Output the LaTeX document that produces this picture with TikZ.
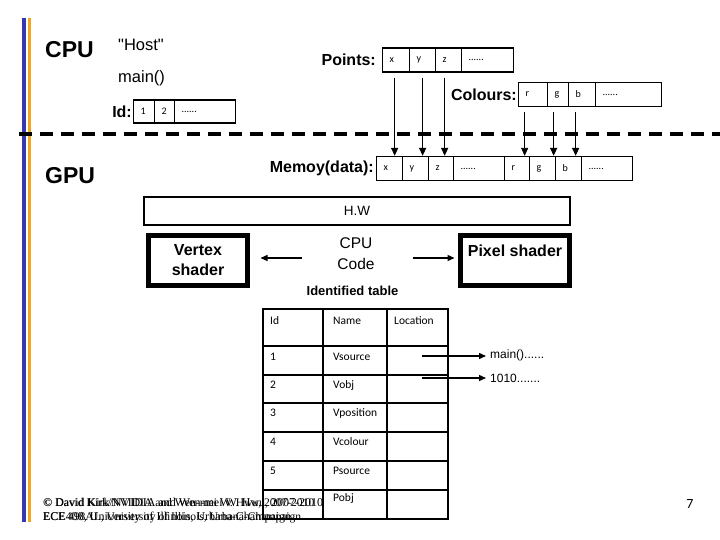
\documentclass[tikz,border=0pt]{standalone}
\usepackage{fontspec}
\setmainfont{Liberation Sans}
\newfontfamily\hostfont{Liberation Sans}[Ligatures=TeXOff]
\newfontfamily\calfont{Carlito}
\newfontfamily\serfont{Liberation Serif}
\usetikzlibrary{arrows.meta}
\definecolor{barblue}{RGB}{55,55,175}
\definecolor{barorange}{RGB}{240,165,35}
\newcommand\fsz[2]{\fontsize{#1}{#2}\selectfont}
\begin{document}
\begin{tikzpicture}[x=1pt,y=-1pt,
  cell/.style={draw, line width=1.3pt, minimum height=24pt, text width={#1pt-14pt},
    inner xsep=7pt, inner ysep=0pt, align=left, anchor=west, font=\calfont\fsz{10}{12}},
  blbl/.style={inner sep=0pt, font=\bfseries\fsz{16}{19}},
  big/.style={inner sep=0pt, anchor=west, font=\bfseries\fsz{23}{26}},
  reg/.style={inner sep=0pt, anchor=west, font=\fsz{16.5}{20}},
  arr/.style={line width=1.5pt, -{Triangle[length=8pt,width=7pt]}},
  tharr/.style={line width=0.9pt, -{Triangle[length=8pt,width=7pt]}},
  smarr/.style={line width=1.3pt, -{Triangle[length=7pt,width=6pt]}},
  shader/.style={draw, line width=5pt, minimum height=50pt, inner sep=0pt, align=center,
    font=\bfseries\fsz{16}{20}},
  tline/.style={line width=2pt},
  ttxt/.style={inner sep=0pt, anchor=west, font=\calfont\fsz{11.5}{13}},
  foot/.style={inner sep=0pt, anchor=west, font=\serfont\fsz{12}{14}}]
\useasboundingbox (0,0) rectangle (720,540);
% side bars
\draw[barblue, line width=4pt] (24,18) -- (24,522);
\draw[barorange, line width=3.5pt] (29.5,18) -- (29.5,522);
% dashed separator
\draw[line width=4.5pt, dash pattern=on 13pt off 8pt] (19,134) -- (720,134);
% CPU side
\node[big] (cpu) at (45,50) {CPU};
\node[reg, font=\hostfont\fsz{16.5}{20}] (host) at (118,45) {"Host"};
\node[reg] (mainf) at (118,78) {main()};
\node[cell=21, minimum height=23pt] (id1) at (133,111.5) {1};
\node[cell=20, minimum height=23pt] (id2) at (154,111.5) {2};
\node[cell=61, minimum height=23pt] (id3) at (174,111.5) {......};
\node[blbl, anchor=east] (idl) at ([xshift=-1pt]id1.west) {Id:};
% Points
\node[cell=27] (p1) at (382,60) {x};
\node[cell=26] (p2) at (409,60) {y};
\node[cell=26] (p3) at (435,60) {z};
\node[cell=52] (p4) at (461,60) {......};
\node[blbl, anchor=east] (ptsl) at ([xshift=-6pt]p1.west) {Points:};
% Colours
\node[cell=29] (c1) at (518,94.5) {r};
\node[cell=21] (c2) at (547,94.5) {g};
\node[cell=27] (c3) at (568,94.5) {b};
\node[cell=66] (c4) at (595,94.5) {......};
\node[blbl, anchor=east] (coll) at ([xshift=-1pt]c1.west) {Colours:};
% GPU side
\node[big] (gpu) at (45,176) {GPU};
\node[cell=26] (m1) at (376,168.5) {x};
\node[cell=26] (m2) at (402,168.5) {y};
\node[cell=25] (m3) at (428,168.5) {z};
\node[cell=51] (m4) at (453,168.5) {......};
\node[cell=25] (m5) at (504,168.5) {r};
\node[cell=26] (m6) at (529,168.5) {g};
\node[cell=26] (m7) at (555,168.5) {b};
\node[cell=51] (m8) at (581,168.5) {......};
\node[blbl, anchor=east] (meml) at ([xshift=-2pt]m1.west) {Memoy(data):};
% transfer arrows
\draw[arr] ([xshift=-1.5pt,yshift=-5pt]p1.south) -- ([xshift=-1.5pt]p1.south |- m1.north);
\draw[arr] ([yshift=-5pt]p2.south) -- (p2.south |- m2.north);
\draw[arr] ([xshift=-4pt,yshift=-5pt]p3.south) -- ([xshift=-4pt]p3.south |- m3.north);
\draw[tharr] ([xshift=-8.5pt,yshift=-5pt]c1.south) -- ([xshift=-8.5pt]c1.south |- m5.north);
\draw[arr] ([xshift=-4.5pt,yshift=-5pt]c2.south) -- ([xshift=-4.5pt]c2.south |- m6.north);
\draw[arr] ([xshift=-6.5pt,yshift=-5pt]c3.south) -- ([xshift=-6.5pt]c3.south |- m7.north);
% H.W
\node[draw, line width=1.3pt, minimum width=426pt, minimum height=28pt, inner sep=0pt,
  font=\fsz{13.5}{16}] (hw) at (357,211) {H.W};
% shaders
\node[shader, minimum width=99pt] (vs) at (198,260.5) {Vertex\\shader};
\node[shader, minimum width=109pt] (ps) at (515,260.5) {Pixel shader\\\mbox{}};
\node[inner sep=0pt, align=center, font=\fsz{15.5}{21}] (cpucode) at (356,253.5) {CPU\\Code};
\draw[smarr] ([shift={(-35pt,-4.5pt)}]cpucode.west) -- ([shift={(10.5pt,2.5pt)}]vs.east);
\draw[smarr] ([shift={(38pt,-4.5pt)}]cpucode.east) -- ([shift={(-3.5pt,2.5pt)}]ps.west);
\node[inner sep=0pt, font=\bfseries\fsz{13}{15}] (idt) at (352.5,291) {Identified table};
% table
\foreach \yy in {309,346,375,403,432,461,490,519}
  \draw[tline] (262,\yy) -- (449,\yy);
\foreach \xx in {263,323,387,448}
  \draw[tline] (\xx,308) -- (\xx,520);
\node[ttxt] (h1) at (270,321) {Id};
\node[ttxt] (h2) at (333,321) {Name};
\node[ttxt] (h3) at (394,321) {Location};
\node[ttxt] (r1a) at (270,357) {1};
\node[ttxt] (r1b) at (333,357) {Vsource};
\node[ttxt] (r2a) at (270,385) {2};
\node[ttxt] (r2b) at (333,385) {Vobj};
\node[ttxt] (r3a) at (270,413) {3};
\node[ttxt] (r3b) at (333,413) {Vposition};
\node[ttxt] (r4a) at (270,442) {4};
\node[ttxt] (r4b) at (333,442) {Vcolour};
\node[ttxt] (r5a) at (270,471) {5};
\node[ttxt] (r5b) at (333,471) {Psource};
\node[ttxt] (r6b) at (333,498) {Pobj};
% location pointers
\node[inner sep=0pt, anchor=west, font=\fsz{12}{14}] (mainlbl) at (490,355) {main()......};
\node[inner sep=0pt, anchor=west, font=\fsz{12}{14}] (binlbl) at (490,378) {1010.......};
\coordinate (a1) at (422,356);
\coordinate (a2) at (422,378);
\draw[smarr] (a1) -- ([xshift=-4pt]mainlbl.west |- a1);
\draw[smarr] (a2) -- ([xshift=-4pt]binlbl.west |- a2);
% footer
\node[foot] (f1) at (43,503) {© David Kirk/NVIDIA and Wen-mei W. Hwu, 2007-2010};
\node[foot, font=\serfont\fsz{11.6}{14}] (f1b) at (43.5,503) {© David Kirk/NVIDIA and Wen-mei W. Hwu, 2007-2010};
\node[foot] (f2) at (43,518) {ECE408, University of Illinois, Urbana-Champaign};
\node[foot, font=\serfont\fsz{11.6}{14}] (f2b) at (43,518) {ECE 498AL, University of Illinois, Urbana-Champaign};
\node[inner sep=0pt, font=\calfont\fsz{14}{16}] (pg) at (690,504) {7};
\end{tikzpicture}
\end{document}
